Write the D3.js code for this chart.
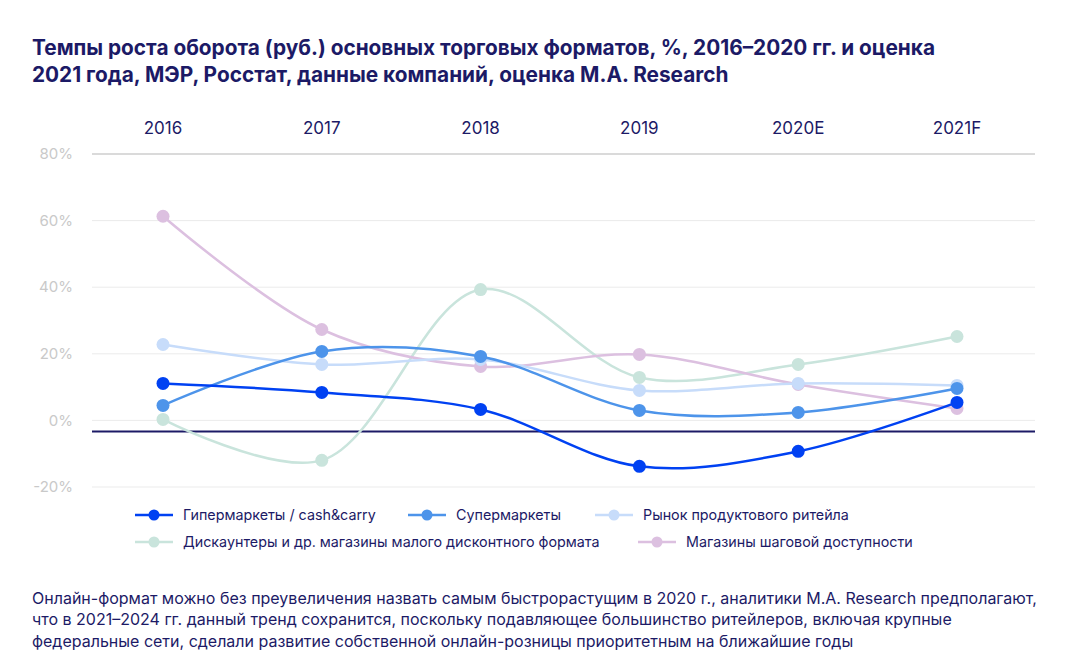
<!DOCTYPE html>
<html><head><meta charset="utf-8">
<script src="https://cdn.jsdelivr.net/npm/d3@7"></script>
<style>
html,body{margin:0;padding:0;background:#fff;}
svg{display:block;font-family:Inter, "Noto Sans", sans-serif;}
</style></head>
<body>
<svg id="chart" width="1071" height="662"></svg>
<script>
const categories = ["2016","2017","2018","2019","2020E","2021F"];
const seriesNames = [
  "Гипермаркеты / cash&carry",
  "Супермаркеты",
  "Рынок продуктового ритейла",
  "Дискаунтеры и др. магазины малого дисконтного формата",
  "Магазины шаговой доступности"
];
const hypermarkets = [11.1, 8.4, 3.3, -13.8, -9.3, 5.4];
const supermarkets = [4.5, 20.7, 19.2, 3.0, 2.4, 9.6];
const retailMarket = [22.8, 16.8, 18.3, 9.0, 11.1, 10.5];
const discounters = [0.3, -12.0, 39.3, 12.9, 16.8, 25.2];
const convenience = [61.3, 27.3, 16.2, 19.8, 10.8, 3.6];
const yTicks = [-20, 0, 20, 40, 60, 80];
const baselineValue = -3.3;
const colors = ["#0041f2", "#4d94ea", "#c7dcfa", "#c9e4dc", "#dcc0e0"];
const titleLines = [
  "Темпы роста оборота (руб.) основных торговых форматов, %, 2016–2020 гг. и оценка",
  "2021 года, МЭР, Росстат, данные компаний, оценка M.A. Research"
];
const noteLines = [
  "Онлайн-формат можно без преувеличения назвать самым быстрорастущим в 2020 г., аналитики M.A. Research предполагают,",
  "что в 2021–2024 гг. данный тренд сохранится, поскольку подавляющее большинство ритейлеров, включая крупные",
  "федеральные сети, сделали развитие собственной онлайн-розницы приоритетным на ближайшие годы"
];

const allSeries = [hypermarkets, supermarkets, retailMarket, discounters, convenience];
const navy = "#1c1a66";
const svg = d3.select("#chart");

const x = d3.scalePoint().domain(categories).range([163, 957]);
const y = d3.scaleLinear().domain([-20, 80]).range([487, 154]);
const gridX0 = 92, gridX1 = 1035;

// title
svg.append("g").selectAll("text").data(titleLines).join("text")
  .attr("x", 32).attr("y", (d,i)=>55 + i*27)
  .attr("fill", navy).attr("font-size", 20.8).attr("font-weight", 700)
  .text(d=>d);

// gridlines
svg.append("g").selectAll("line").data(yTicks).join("line")
  .attr("x1", gridX0).attr("x2", gridX1)
  .attr("y1", d=>y(d)).attr("y2", d=>y(d))
  .attr("stroke", d=> d===80 ? "#dadada" : "#ebebeb")
  .attr("stroke-width", d=> d===80 ? 2 : 1);

// y labels
svg.append("g").selectAll("text").data(yTicks).join("text")
  .attr("x", 73).attr("y", d=>y(d)).attr("dy", "0.35em")
  .attr("text-anchor", "end").attr("fill", "#c9c9c9").attr("font-size", 15)
  .text(d=>d+"%");

// x labels
svg.append("g").selectAll("text").data(categories).join("text")
  .attr("x", d=>x(d)).attr("y", 128).attr("dy", "0.35em")
  .attr("text-anchor", "middle").attr("fill", navy).attr("font-size", 17)
  .text(d=>d);

// baseline
svg.append("line").attr("x1", gridX0).attr("x2", gridX1)
  .attr("y1", y(baselineValue)).attr("y2", y(baselineValue))
  .attr("stroke", navy).attr("stroke-width", 2);

const line = d3.line().x((d,i)=>x(categories[i])).y(d=>y(d)).curve(d3.curveCatmullRom.alpha(0.5));

const order = [3, 4, 2, 1, 0];
const g = svg.append("g");
order.forEach(si=>{
  const data = allSeries[si];
  g.append("path").attr("d", line(data)).attr("fill","none")
    .attr("stroke", colors[si]).attr("stroke-width", 2.5);
  g.selectAll(null).data(data).join("circle")
    .attr("cx",(d,i)=>x(categories[i])).attr("cy", d=>y(d)).attr("r", 6.5)
    .attr("fill", colors[si]);
});

// legend
const legendPos = [
  {x:135, y:515}, {x:408, y:515}, {x:595, y:515},
  {x:135, y:542}, {x:638, y:542}
];
const lg = svg.append("g");
seriesNames.forEach((name, i)=>{
  const p = legendPos[i];
  lg.append("line").attr("x1", p.x).attr("x2", p.x+38).attr("y1", p.y).attr("y2", p.y)
    .attr("stroke", colors[i]).attr("stroke-width", 2.5);
  lg.append("circle").attr("cx", p.x+19).attr("cy", p.y).attr("r", 5.5).attr("fill", colors[i]);
  lg.append("text").attr("x", p.x+48).attr("y", p.y).attr("dy","0.35em")
    .attr("fill", navy).attr("font-size", 14.3).text(name);
});

// note
svg.append("g").selectAll("text").data(noteLines).join("text")
  .attr("x", 32).attr("y", (d,i)=>598 + i*21.5).attr("dy","0.35em")
  .attr("fill", navy).attr("font-size", 16).text(d=>d);
</script>
</body></html>
